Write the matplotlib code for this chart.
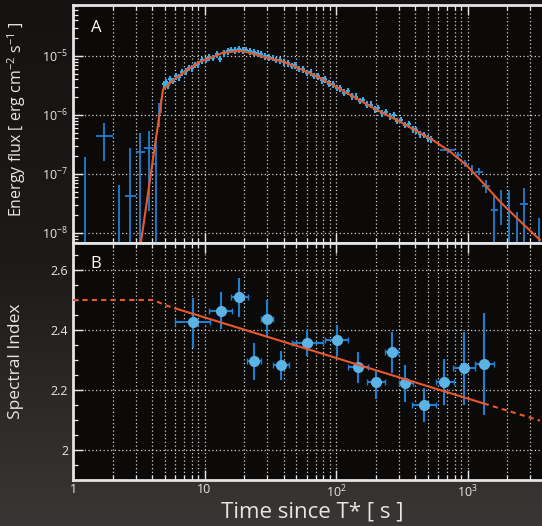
import matplotlib.pyplot as plt
import numpy as np
from matplotlib.ticker import FixedLocator, LogLocator, MultipleLocator, NullFormatter
from matplotlib.colors import LinearSegmentedColormap

plt.rcParams['font.family'] = ['Open Sans', 'DejaVu Sans']
plt.rcParams['mathtext.fontset'] = 'custom'
plt.rcParams['mathtext.rm'] = 'Open Sans'
plt.rcParams['mathtext.it'] = 'Open Sans:italic'

# ---- panel A: energy flux light curve ----
# dense, well measured part (time [s], flux [erg cm^-2 s^-1])
t_dense = [4.9, 5.1, 5.3, 5.5, 5.8, 6.1, 6.4, 6.8, 7.2, 7.6, 8.0, 8.5, 9.0, 9.6,
           10.2, 10.9, 11.6, 12.4, 13.2, 14.1, 15.0, 16.0, 17.1, 18.3, 19.5, 20.8,
           22.2, 23.7, 25.3, 27.0, 28.8, 30.8, 32.9, 35.1, 37.5, 40, 43, 46, 49,
           52, 56, 60, 64, 68, 73, 78, 83, 89, 95, 101, 108, 116, 124, 132, 141,
           151, 161, 172, 184, 197, 210, 225, 240, 257, 274, 293, 313, 335, 358,
           382, 408, 436, 466, 498, 532]
f_dense = [3.3e-6, 3.6e-6, 3.2e-6, 4.0e-6, 3.8e-6, 4.5e-6, 4.4e-6, 5.3e-6, 5.5e-6,
           6.3e-6, 6.2e-6, 7.1e-6, 7.3e-6, 8.4e-6, 8.6e-6, 9.6e-6, 9.3e-6, 1.06e-5,
           9.0e-6, 1.12e-5, 1.2e-5, 1.27e-5, 1.24e-5, 1.3e-5, 1.25e-5, 1.27e-5,
           1.2e-5, 1.16e-5, 1.12e-5, 1.06e-5, 9.9e-6, 9.5e-6, 9.3e-6, 8.6e-6, 8.5e-6,
           7.8e-6, 7.6e-6, 6.8e-6, 6.9e-6, 6.1e-6, 5.9e-6, 5.2e-6, 5.3e-6, 4.6e-6,
           4.5e-6, 3.9e-6, 4.0e-6, 3.4e-6, 3.3e-6, 2.9e-6, 2.85e-6, 2.4e-6, 2.5e-6,
           2.1e-6, 2.05e-6, 1.75e-6, 1.8e-6, 1.5e-6, 1.5e-6, 1.25e-6, 1.3e-6,
           1.08e-6, 1.12e-6, 9.5e-7, 9.8e-7, 8.0e-7, 8.3e-7, 6.8e-7, 7.0e-7, 5.8e-7,
           5.5e-7, 4.7e-7, 4.6e-7, 4.0e-7, 3.9e-7]
dense_err = 0.13  # relative size of the small error bars

# sparse points with their error ranges
t_sp = [1.73, 2.73, 3.23, 3.76, 4.26, 4.53, 4.69,
        705, 851, 957, 1076, 1230, 1383, 1600, 1798, 2080, 2690]
t_sp_lo = [1.50, 2.49, 3.00, 3.46, 4.05, 4.48, 4.64,
           618, 820, 930, 1050, 1150, 1300, 1500, 1760, 2040, 2500]
t_sp_hi = [2.02, 3.00, 3.53, 4.08, 4.35, 4.58, 4.74,
           804, 885, 985, 1105, 1320, 1470, 1710, 1840, 2120, 2900]
f_sp = [4.46e-7, 4.24e-8, 2.33e-7, 2.72e-7, 1.48e-7, 1.07e-6, 1.48e-6,
        2.55e-7, 2.1e-7, 1.52e-7, 1.2e-7, 1.09e-7, 6.3e-8, 2.5e-8, 3.4e-8, 3.1e-8, 3.1e-8]
f_sp_lo = [1.68e-7, 1e-9, 1e-9, 2.36e-8, 1e-9, 6.3e-7, 1.1e-6,
           2.3e-7, 1.8e-7, 1.3e-7, 1.0e-7, 9.5e-8, 4.7e-8, 1e-9, 1.37e-8, 1e-9, 1e-9]
f_sp_hi = [7.2e-7, 2.8e-7, 4.9e-7, 5.36e-7, 4.28e-7, 1.6e-6, 1.9e-6,
           2.8e-7, 2.4e-7, 1.75e-7, 1.4e-7, 1.25e-7, 7.9e-8, 4.4e-8, 5.4e-8, 5.4e-8, 5.7e-8]

# bars with no central value (only an upper end)
t_up = [1.23, 2.25, 2366, 3516]
f_up = [1.96e-7, 6.5e-8, 2.3e-8, 1.8e-8]

# fitted flux model
t_model = [3.29, 4.84, 5.79, 7.32, 9.24, 11.7, 13.9, 18.6, 22.2, 28.0, 39.7, 50.3,
           67.2, 90, 135, 204, 300, 411, 550, 736, 986, 1318, 1766, 2366, 3557]
f_model = [7.1e-9, 2.7e-6, 3.9e-6, 5.8e-6, 8.0e-6, 9.7e-6, 1.14e-5, 1.22e-5, 1.13e-5,
           9.7e-6, 8.0e-6, 6.4e-6, 4.8e-6, 3.45e-6, 2.05e-6, 1.22e-6, 7.9e-7, 5.3e-7,
           3.7e-7, 2.4e-7, 1.4e-7, 7.0e-8, 3.4e-8, 1.8e-8, 7.6e-9]

# ---- panel B: spectral index ----
t_idx = [8.13, 13.3, 18.3, 23.9, 30.0, 38.2, 60.5, 101, 146, 201, 267, 335, 464, 666, 940, 1334]
t_idx_lo = [5.97, 10.87, 15.9, 21.0, 27.1, 33.0, 46.0, 82.5, 123, 173, 236, 303, 376, 578, 780, 1134]
t_idx_hi = [11.1, 16.3, 21.3, 27.1, 33.3, 44.0, 80.0, 123, 176, 236, 297, 382, 578, 785, 1134, 1583]
idx = [2.425, 2.463, 2.509, 2.297, 2.436, 2.282, 2.357, 2.367, 2.275, 2.227, 2.325,
       2.222, 2.151, 2.228, 2.272, 2.287]
idx_lo = [2.339, 2.402, 2.444, 2.234, 2.380, 2.234, 2.312, 2.314, 2.222, 2.171, 2.255,
          2.159, 2.093, 2.149, 2.149, 2.116]
idx_hi = [2.508, 2.526, 2.575, 2.356, 2.500, 2.329, 2.399, 2.418, 2.326, 2.267, 2.393,
          2.283, 2.205, 2.303, 2.393, 2.457]

# index model: dashed before / after the fitted range, solid inside
t_idx_early = [1, 4.1, 5.0, 6.0]
idx_early = [2.5, 2.5, 2.483, 2.472]
t_idx_fit = [6.0, 1330]
idx_fit = [2.472, 2.155]
t_idx_late = [1330, 3560]
idx_late = [2.155, 2.098]

# colours
fg = '#e6e6e6'
red = '#e8582c'
blue_dense = '#38aee6'
blue_bar = '#1f7fd0'
blue_dot = '#5cb3e6'

fig = plt.figure(figsize=(5.42, 5.26), dpi=100)

# dark space-like backdrop
bg = fig.add_axes([0, 0, 1, 1], zorder=-10)
grad = np.linspace(0, 1, 256).reshape(-1, 1)
bg.imshow(grad, aspect='auto', extent=[0, 1, 0, 1],
          cmap=LinearSegmentedColormap.from_list('bg', ['#151211', '#1d1a18', '#3a3634']))
bg.axis('off')

xmax = 10 ** ((542 - 73) / 131.5)
ax1 = fig.add_axes([0.1347, 0.538, 0.8653, 0.4525], facecolor='#0c0a09')
ax2 = fig.add_axes([0.1347, 0.0875, 0.8653, 0.4505], facecolor='#0c0a09')

# panel A
t_dense = np.array(t_dense)
f_dense = np.array(f_dense)
ax1.errorbar(t_dense, f_dense, xerr=t_dense * 0.035, yerr=f_dense * dense_err,
             fmt='none', ecolor=blue_dense, elinewidth=1.5, zorder=3)
t_sp, f_sp = np.array(t_sp), np.array(f_sp)
ax1.errorbar(t_sp, f_sp,
             xerr=[t_sp - np.array(t_sp_lo), np.array(t_sp_hi) - t_sp],
             yerr=[f_sp - np.array(f_sp_lo), np.array(f_sp_hi) - f_sp],
             fmt='none', ecolor=blue_bar, elinewidth=1.3, zorder=3)
ax1.vlines(t_up, 1e-9, f_up, color=blue_bar, lw=1.3, zorder=3)
ax1.plot(t_model, f_model, color=red, lw=1.5, zorder=5)

ax1.set_xscale('log')
ax1.set_yscale('log')
ax1.set_xlim(1, xmax)
ax1.set_ylim(10 ** -8.17, 10 ** -4.136)
ax1.yaxis.set_major_locator(FixedLocator([1e-8, 1e-7, 1e-6, 1e-5]))
ax1.set_yticklabels(['10$^{-8}$', '10$^{-7}$', '10$^{-6}$', '10$^{-5}$'])
ax1.yaxis.set_minor_locator(LogLocator(base=10, subs=np.arange(2, 10)))
ax1.yaxis.set_minor_formatter(NullFormatter())
ax1.tick_params(axis='x', labelbottom=False)
ax1.set_ylabel('Energy flux [ erg cm$^{-2}$ s$^{-1}$ ]', color=fg, fontsize=11.5)
ax1.yaxis.set_label_coords(-0.097, 0.52)
ax1.text(0.049, 0.903, 'A', transform=ax1.transAxes, color='white', fontsize=12,
         ha='center', va='center')

# panel B
t_idx, idx = np.array(t_idx), np.array(idx)
ax2.errorbar(t_idx, idx, xerr=[t_idx - np.array(t_idx_lo), np.array(t_idx_hi) - t_idx],
             fmt='none', ecolor=blue_bar, elinewidth=1.5, capsize=2.5, zorder=3)
ax2.errorbar(t_idx, idx, yerr=[idx - np.array(idx_lo), np.array(idx_hi) - idx],
             fmt='o', ms=7, mfc=blue_dot, mec=blue_dot, ecolor=blue_bar,
             elinewidth=1.5, capsize=0, zorder=4)
ax2.plot(t_idx_early, idx_early, color=red, lw=1.5, ls=(0, (2.5, 2)), zorder=5)
ax2.plot(t_idx_fit, idx_fit, color=red, lw=1.5, zorder=5)
ax2.plot(t_idx_late, idx_late, color=red, lw=1.5, ls=(0, (2.5, 2)), zorder=5)

ax2.set_xscale('log')
ax2.set_xlim(1, xmax)
ax2.set_ylim(1.90, 2.69)
ax2.yaxis.set_major_locator(FixedLocator([2.0, 2.2, 2.4, 2.6]))
ax2.set_yticklabels(['2', '2.2', '2.4', '2.6'])
ax2.yaxis.set_minor_locator(MultipleLocator(0.05))
ax2.xaxis.set_major_locator(FixedLocator([1, 10, 100, 1000]))
ax2.set_xticklabels(['1', '10', '10$^2$', '10$^3$'])
ax2.set_ylabel('Spectral Index', color=fg, fontsize=12.5)
ax2.yaxis.set_label_coords(-0.104, 0.5)
ax2.set_xlabel('Time since T* [ s ]', color=fg, fontsize=16, va='top')
ax2.xaxis.set_label_coords(0.51, -0.092)
ax2.text(0.049, 0.911, 'B', transform=ax2.transAxes, color='white', fontsize=12,
         ha='center', va='center')

for ax in (ax1, ax2):
    ax.xaxis.set_minor_locator(LogLocator(base=10, subs=np.arange(2, 10)))
    ax.xaxis.set_minor_formatter(NullFormatter())
    ax.grid(True, which='both', axis='x', color='#d0d0d0', ls=(0, (1, 2)), lw=0.9)
    ax.grid(True, which='major', axis='y', color='#d0d0d0', ls=(0, (1, 2)), lw=0.9)
    ax.set_axisbelow(True)
    ax.tick_params(which='both', direction='in', top=True, bottom=True, left=True,
                   right=False, colors=fg, labelsize=9)
    ax.tick_params(which='major', length=7, width=1)
    ax.tick_params(which='minor', length=3.5, width=0.9)
    for side in ('left', 'top', 'bottom'):
        ax.spines[side].set_color('#e4e4e4')
        ax.spines[side].set_linewidth(2)
    ax.spines['right'].set_visible(False)
ax2.tick_params(axis='x', which='major', pad=2.5)

fig.savefig('out.png', dpi=100, facecolor=fig.get_facecolor())
